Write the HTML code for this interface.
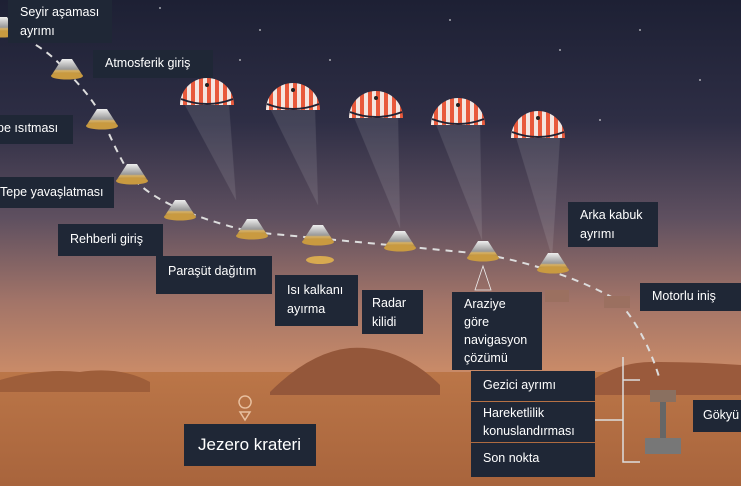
<!DOCTYPE html>
<html><head><meta charset="utf-8"><style>
body{margin:0;width:741px;height:486px;overflow:hidden;font-family:"Liberation Sans",sans-serif}
.b{position:absolute;background:#1f2736;color:#fff;font-size:12.5px;line-height:19px;padding:4px 12px;box-sizing:border-box}
</style></head><body>
<svg width="741" height="486" style="position:absolute;left:0;top:0">
<defs>
<linearGradient id="sky" x1="0" y1="0" x2="0" y2="1">
<stop offset="0" stop-color="#1d2034"/><stop offset="0.25" stop-color="#2e2e45"/>
<stop offset="0.45" stop-color="#5f5060"/><stop offset="0.62" stop-color="#a27468"/>
<stop offset="0.76" stop-color="#c88a68"/><stop offset="1" stop-color="#c88a68"/></linearGradient>
<linearGradient id="gr" x1="0" y1="0" x2="0" y2="1">
<stop offset="0" stop-color="#bb7648"/><stop offset="1" stop-color="#a8643c"/></linearGradient>
<linearGradient id="cap" x1="0" y1="0" x2="0" y2="1"><stop offset="0" stop-color="#eee"/><stop offset="0.6" stop-color="#999"/><stop offset="0.7" stop-color="#d9b060"/><stop offset="1" stop-color="#a07a30"/></linearGradient>
<pattern id="st" width="8" height="8" patternUnits="userSpaceOnUse"><rect width="4" height="8" fill="#e85a3c"/><rect x="4" width="4" height="8" fill="#f4e6e0"/></pattern>
<g id="c"><path d="M-5,-13 L5,-13 L16,4 L-16,4 Z" fill="url(#cap)"/><ellipse cx="0" cy="4" rx="16" ry="3.5" fill="#c99a40"/></g>
<g id="p"><path d="M-27,8 A27,27 0 0 1 27,8 Z" fill="url(#st)"/><path d="M-26,2 Q0,12 26,2" stroke="#223" stroke-width="2" fill="none"/><circle cx="0" cy="-12" r="2" fill="#222"/></g>
</defs>
<rect width="741" height="486" fill="url(#sky)"/>
<rect y="372" width="741" height="114" fill="url(#gr)"/>
<path d="M0,380 Q40,368 80,372 Q120,366 150,382 L150,392 L0,392 Z" fill="#9e5e3a"/>
<path d="M270,392 Q310,352 350,348 Q400,345 440,385 L440,395 L270,395 Z" fill="#94573a"/>
<path d="M590,382 Q620,360 660,362 Q700,362 741,365 L741,395 L590,395 Z" fill="#9a5a3c"/>
<g fill="#fff" opacity="0.6"><circle cx="160" cy="8" r="1"/><circle cx="260" cy="30" r="1"/><circle cx="330" cy="60" r="1"/><circle cx="450" cy="20" r="1"/><circle cx="560" cy="50" r="1"/><circle cx="640" cy="30" r="1"/><circle cx="700" cy="80" r="1"/><circle cx="600" cy="120" r="1"/><circle cx="240" cy="60" r="1"/></g>
<path d="M0,30 Q40,40 67,72 Q95,100 103,120 Q120,160 132,177 Q160,210 252,232 Q400,246 483,254 Q560,268 617,300 Q645,330 660,380" fill="none" stroke="#ddd" stroke-width="2" stroke-dasharray="7,6"/>
<g fill="#fff" opacity="0.1" stroke="#eee" stroke-opacity="0.5" stroke-width="0.6">
<path d="M185,105 L229,105 L236,200 Z"/><path d="M271,110 L315,110 L318,205 Z"/><path d="M354,117 L398,117 L400,228 Z"/><path d="M436,124 L480,124 L482,240 Z"/><path d="M516,137 L560,137 L552,257 Z"/></g>
<use href="#p" x="207" y="97"/><use href="#p" x="293" y="102"/><use href="#p" x="376" y="110"/><use href="#p" x="458" y="117"/><use href="#p" x="538" y="130"/>
<use href="#c" x="2" y="30"/><use href="#c" x="67" y="72"/><use href="#c" x="102" y="122"/><use href="#c" x="132" y="177"/><use href="#c" x="180" y="213"/><use href="#c" x="252" y="232"/><use href="#c" x="318" y="238"/><use href="#c" x="400" y="244"/><use href="#c" x="483" y="254"/><use href="#c" x="553" y="266"/>
<ellipse cx="320" cy="260" rx="14" ry="4" fill="#d8aa50"/>
<rect x="545" y="290" width="24" height="12" fill="#9b7060"/><rect x="604" y="296" width="26" height="12" fill="#9b7060"/>
<path d="M483,266 L475,290 L491,290 Z" fill="none" stroke="#eee" stroke-width="0.8"/>
<path d="M623,357 L623,462 L640,462 M623,380 L640,380" fill="none" stroke="#ddd" stroke-width="1.5"/>
<line x1="595" y1="420" x2="623" y2="420" stroke="#ddd" stroke-width="1.5"/>
<rect x="650" y="390" width="26" height="12" fill="#8a7060"/><rect x="660" y="402" width="6" height="36" fill="#666"/><rect x="645" y="438" width="36" height="16" fill="#777"/>
<path d="M245,408 a6,6 0 1 1 0.1,0 M245,420 L240,412 L250,412 Z" fill="none" stroke="#e8c0a0" stroke-width="1.5"/>
</svg>
<div class="b" style="left:8px;top:0;width:104px;height:43px;padding-top:3px">Seyir aşaması<br>ayrımı</div>
<div class="b" style="left:93px;top:50px;width:120px;height:28px">Atmosferik giriş</div>
<div class="b" style="left:0;top:115px;width:73px;height:29px;padding-left:0;text-indent:-3px">pe ısıtması</div>
<div class="b" style="left:0;top:177px;width:114px;height:31px;padding:6px 0 0 0">Tepe yavaşlatması</div>
<div class="b" style="left:58px;top:224px;width:105px;height:32px;padding-top:6px">Rehberli giriş</div>
<div class="b" style="left:156px;top:256px;width:116px;height:38px;padding-top:6px">Paraşüt dağıtım</div>
<div class="b" style="left:275px;top:275px;width:83px;height:51px;padding-top:6px">Isı kalkanı<br>ayırma</div>
<div class="b" style="left:362px;top:290px;width:61px;height:44px;padding:4px 10px">Radar<br>kilidi</div>
<div class="b" style="left:452px;top:292px;width:90px;height:78px;padding:3px 12px;line-height:18px">Araziye<br>göre<br>navigasyon<br>çözümü</div>
<div class="b" style="left:568px;top:202px;width:90px;height:45px">Arka kabuk<br>ayrımı</div>
<div class="b" style="left:640px;top:283px;width:101px;height:28px">Motorlu iniş</div>
<div class="b" style="left:471px;top:371px;width:124px;height:30px;padding-top:5px">Gezici ayrımı</div>
<div class="b" style="left:471px;top:402px;width:124px;height:40px;padding-top:2px;line-height:18px">Hareketlilik<br>konuslandırması</div>
<div class="b" style="left:471px;top:443px;width:124px;height:34px;padding-top:6px">Son nokta</div>
<div class="b" style="left:693px;top:400px;width:48px;height:32px;padding:6px 0 0 10px">Gökyü</div>
<div class="b" style="left:184px;top:424px;width:132px;height:42px;font-size:17px;padding:10px 14px;line-height:22px">Jezero krateri</div>
</body></html>
